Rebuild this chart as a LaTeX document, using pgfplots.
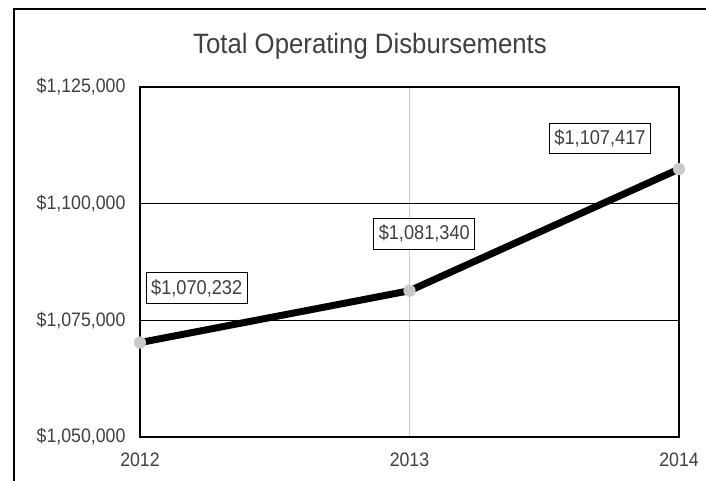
\documentclass[border=0pt]{standalone}
\usepackage{pgfplots}
\pgfplotsset{compat=1.18}
\usepackage{fontspec}
\setmainfont{Liberation Sans}
\newfontfamily\condfont[FakeStretch=0.91]{Liberation Sans}
\newfontfamily\titlefont[FakeStretch=0.92]{Liberation Sans}
\definecolor{txt}{HTML}{404040}
\definecolor{mk}{HTML}{C8C8C8}
\definecolor{vgrid}{HTML}{C8C8C8}
\begin{document}
\begin{tikzpicture}[x=1pt,y=1pt]
\useasboundingbox (0,0) rectangle (706,481);
\fill[white] (0,0) rectangle (706,481);
\draw[line width=2pt] (14,-10) rectangle (720,472);
\node[text=txt, anchor=base, inner sep=0pt, font=\titlefont\fontsize{28}{32}\selectfont] at (370,427) {Total Operating Disbursements};
\begin{axis}[at={(140pt,44pt)}, anchor=south west, scale only axis,
  width=539pt, height=350pt,
  xmin=2012, xmax=2014, ymin=1050000, ymax=1125000,
  scaled y ticks=false, scaled x ticks=false,
  xtick={2012,2013,2014}, xticklabels={2012,2013,2014},
  ytick={1050000,1075000,1100000,1125000},
  yticklabels={{\$1,050,000},{\$1,075,000},{\$1,100,000},{\$1,125,000}},
  tick style={draw=none},
  ticklabel style={font=\condfont\fontsize{19.5}{22}\selectfont, text=txt},
  yticklabel style={xshift=-11pt},
  xticklabel style={yshift=-12pt},
  axis line style={line width=1.3pt},
  ymajorgrids, xmajorgrids,
  y grid style={black, line width=1.3pt},
  x grid style={vgrid, line width=1.3pt},
  clip=false,
]
\addplot[draw=black, line width=7pt, line join=round, mark=*, mark size=6pt,
  mark options={draw=mk, fill=mk, line width=0.1pt}]
  coordinates {(2012,1070232) (2013,1081340) (2014,1107417)};
\tikzset{lbl/.style={draw=black, line width=1pt, fill=white, text=txt,
  font=\condfont\fontsize{20}{22}\selectfont, inner xsep=5pt, inner ysep=0pt,
  minimum height=30.6pt}}
\node[lbl, xshift=56.7pt, yshift=54.6pt] at (axis cs:2012,1070232) {\$1,070,232};
\node[lbl, xshift=14.8pt, yshift=56.9pt] at (axis cs:2013,1081340) {\$1,081,340};
\node[lbl, xshift=-79pt, yshift=30.7pt] at (axis cs:2014,1107417) {\$1,107,417};
\end{axis}
\end{tikzpicture}
\end{document}
